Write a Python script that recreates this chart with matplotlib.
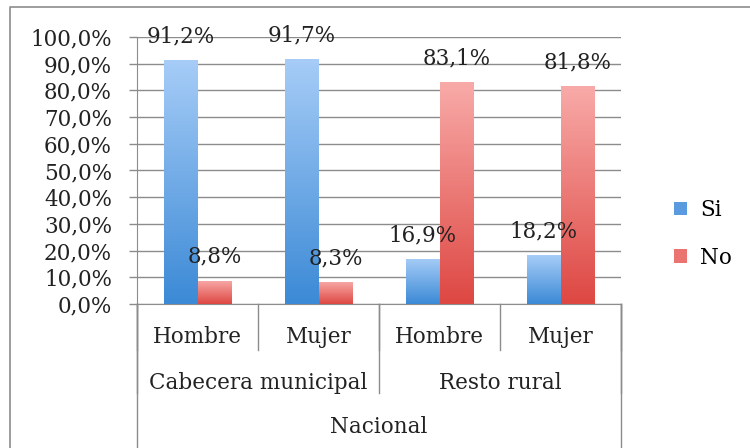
import numpy as np
import matplotlib
matplotlib.use("Agg")
import matplotlib.pyplot as plt
from matplotlib.colors import LinearSegmentedColormap
from matplotlib.lines import Line2D

# data
sexo = ["Hombre", "Mujer", "Hombre", "Mujer"]
zona = ["Cabecera municipal", "Resto rural"]
nivel = "Nacional"
si = [91.2, 91.7, 16.9, 18.2]
no = [8.8, 8.3, 83.1, 81.8]
yticks = [0, 10, 20, 30, 40, 50, 60, 70, 80, 90, 100]

plt.rcParams['font.family'] = ['DejaVu Serif']
FS = 15.5

fig = plt.figure(figsize=(7.5, 4.48), dpi=100)
W, H = 750, 448
ax = fig.add_axes([137 / W, 1 - 304 / H, (621 - 137) / W, (304 - 37) / H])

x = np.arange(len(sexo))
bw = 0.28
grey = "#8c8c8c"

blue_cm = LinearSegmentedColormap.from_list("b", ["#3c8ad6", "#a6ccf7"])
red_cm = LinearSegmentedColormap.from_list("r", ["#de4843", "#f8aaa8"])

bars_si = ax.bar(x - bw / 2, si, bw, color="#5a9be0", label="Si", zorder=2)
bars_no = ax.bar(x + bw / 2, no, bw, color="#ec7470", label="No", zorder=2)

# vertical gradient inside each bar
grad = np.linspace(0, 1, 100).reshape(-1, 1)
for bars, cm in [(bars_si, blue_cm), (bars_no, red_cm)]:
    for b in bars:
        x0, h, w = b.get_x(), b.get_height(), b.get_width()
        im = ax.imshow(grad, cmap=cm, origin="lower", aspect="auto",
                       extent=[x0, x0 + w, 0, h], zorder=3)
        im.set_clip_path(b)

for bars in (bars_si, bars_no):
    for b in bars:
        ax.annotate(f"{b.get_height():.1f}%".replace(".", ","),
                    (b.get_x() + b.get_width() / 2, b.get_height()),
                    xytext=(0, 17), textcoords="offset points",
                    ha="center", va="center", fontsize=FS, color="#222222",
                    zorder=5)

ax.set_xlim(-0.5, len(sexo) - 0.5)
ax.set_ylim(0, 100)
ax.set_yticks(yticks)
ax.set_yticklabels([f"{v:.1f}%".replace(".", ",") for v in yticks], fontsize=FS, color="#222222")
ax.tick_params(axis="y", length=6, width=1, color=grey, pad=12)
ax.set_xticks([])
ax.yaxis.grid(True, color=grey, linewidth=1, zorder=0)
ax.set_axisbelow(True)
for s in ["top", "right"]:
    ax.spines[s].set_visible(False)
ax.spines["left"].set_color(grey)
ax.spines["bottom"].set_color(grey)

# multi-level category axis
tr = ax.get_xaxis_transform()
edges = np.arange(len(sexo) + 1) - 0.5
for e in edges:
    ax.plot([e, e], [0, -0.172], color=grey, lw=1, transform=tr, clip_on=False)
for e in edges[::2]:
    ax.plot([e, e], [0, -0.333], color=grey, lw=1, transform=tr, clip_on=False)
for e in edges[[0, -1]]:
    ax.plot([e, e], [0, -0.56], color=grey, lw=1, transform=tr, clip_on=False)
for xi, s in zip(x, sexo):
    ax.text(xi, -0.124, s, transform=tr, ha="center", va="center", fontsize=FS, color="#222222")
for i, z in enumerate(zona):
    ax.text(2 * i + 0.5, -0.296, z, transform=tr, ha="center", va="center", fontsize=FS, color="#222222")
ax.text(np.mean(x), -0.46, nivel, transform=tr, ha="center", va="center", fontsize=FS, color="#222222")

ax.legend(loc="center left", bbox_to_anchor=(655 / W, 1 - 234 / H), bbox_transform=fig.transFigure,
          frameon=False, fontsize=FS, handlelength=0.6, handleheight=0.6,
          handletextpad=0.6, labelspacing=1.2)

# chart frame (top and left edges visible only)
fig.add_artist(Line2D([10 / W, 10 / W, 1.0], [0, 1 - 7 / H, 1 - 7 / H],
                      transform=fig.transFigure, color="#8c8c8c", lw=1.2))

fig.savefig("out.png", dpi=100)
